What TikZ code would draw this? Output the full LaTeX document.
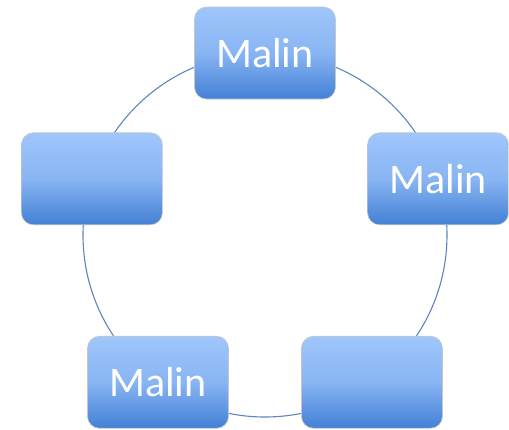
\documentclass[tikz,border=0pt]{standalone}
\usepackage{fontspec}
\setmainfont{Carlito}
\definecolor{ringblue}{HTML}{5B86C0}
\definecolor{boxtop}{HTML}{A0C6FB}
\definecolor{boxmid}{HTML}{88B5F3}
\definecolor{boxbot}{HTML}{4380D5}
\tikzset{
  cyclebox/.style={rounded corners=12pt, minimum width=141pt, minimum height=92pt,
    top color=boxtop, bottom color=boxbot, middle color=boxmid,
    draw=black!22, line width=0.6pt, text=white,
    font=\fontsize{42}{49}\selectfont, inner sep=0pt},
  ring/.style={ringblue, line width=1.1pt}
}
\begin{document}
\begin{tikzpicture}[x=1pt, y=1pt]
  \useasboundingbox (-265,-194) rectangle (244,235);
  % ring behind the boxes
  \draw[ring] (0,0) circle (182);
  % boxes round the ring
  \node[cyclebox] (top) at (90:182) {Malin};
  \node[cyclebox] (right) at (18:182) {Malin};
  \node[cyclebox] (botright) at (-54:182) {};
  \node[cyclebox] (botleft) at (-126:182) {Malin};
  \node[cyclebox] (left) at (162:182) {};
\end{tikzpicture}
\end{document}
